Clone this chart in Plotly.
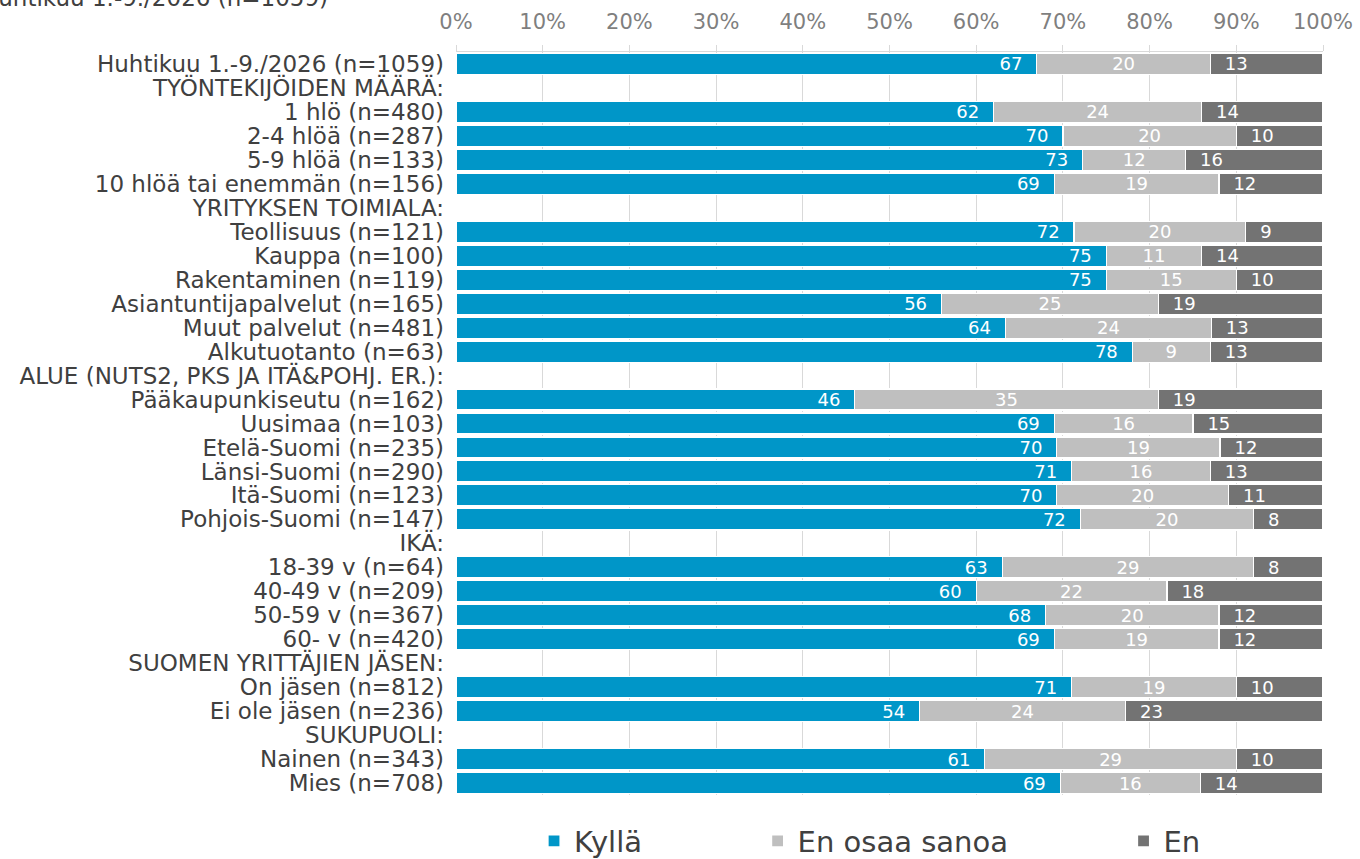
import plotly.graph_objects as go

categories = [
    "Huhtikuu 1.-9./2026 (n=1059)",
    "TYÖNTEKIJÖIDEN MÄÄRÄ:",
    "1 hlö (n=480)",
    "2-4 hlöä (n=287)",
    "5-9 hlöä (n=133)",
    "10 hlöä tai enemmän (n=156)",
    "YRITYKSEN TOIMIALA:",
    "Teollisuus (n=121)",
    "Kauppa (n=100)",
    "Rakentaminen (n=119)",
    "Asiantuntijapalvelut (n=165)",
    "Muut palvelut (n=481)",
    "Alkutuotanto (n=63)",
    "ALUE (NUTS2, PKS JA ITÄ&POHJ. ER.):",
    "Pääkaupunkiseutu (n=162)",
    "Uusimaa (n=103)",
    "Etelä-Suomi (n=235)",
    "Länsi-Suomi (n=290)",
    "Itä-Suomi (n=123)",
    "Pohjois-Suomi (n=147)",
    "IKÄ:",
    "18-39 v (n=64)",
    "40-49 v (n=209)",
    "50-59 v (n=367)",
    "60- v (n=420)",
    "SUOMEN YRITTÄJIEN JÄSEN:",
    "On jäsen (n=812)",
    "Ei ole jäsen (n=236)",
    "SUKUPUOLI:",
    "Nainen (n=343)",
    "Mies (n=708)",
]

kylla = [67, None, 62, 70, 73, 69, None, 72, 75, 75, 56, 64, 78, None, 46, 69, 70, 71, 70, 72,
         None, 63, 60, 68, 69, None, 71, 54, None, 61, 69]
en_osaa = [20, None, 24, 20, 12, 19, None, 20, 11, 15, 25, 24, 9, None, 35, 16, 19, 16, 20, 20,
           None, 29, 22, 20, 19, None, 19, 24, None, 29, 16]
en = [13, None, 14, 10, 16, 12, None, 9, 14, 10, 19, 13, 13, None, 19, 15, 12, 13, 11, 8,
      None, 8, 18, 12, 12, None, 10, 23, None, 10, 14]

series_names = ["Kyllä", "En osaa sanoa", "En"]
colors = ["#0096C8", "#BFBFBF", "#737373"]
title_text = "Huhtikuu 1.-9./2026 (n=1059)"

FONT = "DejaVu Sans"
NB = "\u00a0"
pad = NB * 2
legend_pad = NB * 12

fig = go.Figure()
specs = [
    (kylla, "%{text}" + pad, "end", series_names[0] + legend_pad),
    (en_osaa, "%{text}", "middle", series_names[1] + legend_pad),
    (en, pad + "%{text}", "start", series_names[2]),
]
for (vals, tmpl, anchor, name), col in zip(specs, colors):
    fig.add_trace(go.Bar(
        y=categories, x=vals, orientation="h", name=name,
        marker=dict(color=col, line=dict(color="white", width=1.2)),
        text=vals, texttemplate=tmpl, textposition="inside",
        insidetextanchor=anchor, textangle=0,
        textfont=dict(color="white", size=18, family=FONT),
        hoverinfo="skip",
    ))

fig.update_layout(
    barmode="stack", barnorm="percent", bargap=0.12,
    width=1360, height=859,
    margin=dict(l=456, r=37, t=52, b=64, autoexpand=False),
    paper_bgcolor="white", plot_bgcolor="white",
    font=dict(family=FONT, color="#404040"),
    showlegend=True,
    legend=dict(orientation="h", x=0.09, xanchor="left", y=-0.062, yanchor="middle",
                font=dict(size=29, color="#404040", family=FONT),
                traceorder="normal"),
    uniformtext=dict(minsize=18, mode="show"),
)
fig.update_xaxes(
    side="top", range=[0, 100], dtick=10, ticksuffix="%",
    showgrid=True, gridcolor="#D9D9D9", gridwidth=1,
    showline=True, linecolor="#D9D9D9", linewidth=1,
    ticks="outside", ticklen=6, tickcolor="#D9D9D9",
    tickfont=dict(size=21, color="#7F7F7F", family=FONT),
    zeroline=False, ticklabelstandoff=8, automargin=False,
)
fig.update_yaxes(
    autorange="reversed", type="category", tickmode="linear", dtick=1,
    showgrid=False, showline=False, ticks="",
    tickfont=dict(size=23, color="#404040", family=FONT),
    ticklabelstandoff=11, automargin=False,
)
fig.add_annotation(
    text=title_text, xref="paper", yref="paper",
    x=(330 - 456) / 867, xanchor="right", y=1.0525, yanchor="bottom",
    showarrow=False, font=dict(size=23, color="#404040", family=FONT),
)

fig.write_html("out.html", config={"displayModeBar": False},
               post_script="document.body.style.margin='0';document.body.style.overflow='hidden';")
